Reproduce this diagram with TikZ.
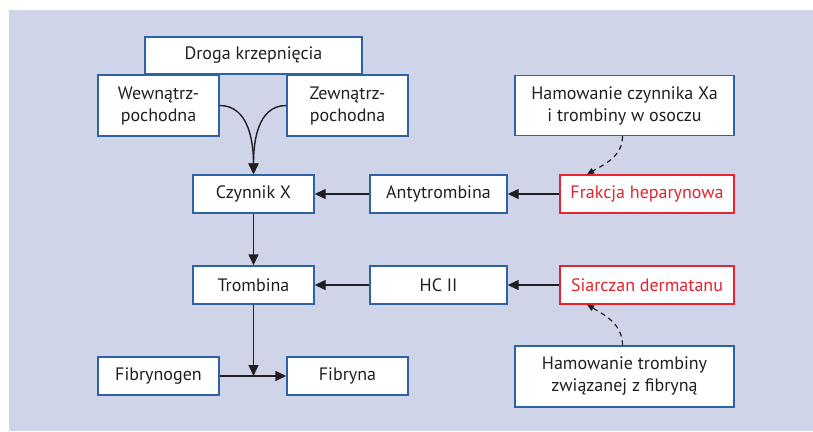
\documentclass[tikz,border=0pt]{standalone}
\usepackage{fontspec}
\setmainfont{PT Sans}
\usepackage{xcolor}
\usetikzlibrary{arrows.meta}

\definecolor{tlo}{HTML}{CFD4E8}
\definecolor{ramka}{HTML}{2B63A6}
\definecolor{czerwony}{HTML}{E4242F}
\definecolor{tekst}{HTML}{231F20}

\tikzset{
  box/.style={draw=ramka, fill=white, line width=1.4pt, text=tekst,
    inner sep=0pt, align=center, font=\fontsize{18}{22}\selectfont},
  redbox/.style={box, draw=czerwony, text=czerwony},
  arr/.style={draw=tekst, line width=1.4pt, -{Triangle[length=11pt,width=10pt]}},
  dasharr/.style={draw=tekst, line width=1.2pt, dash pattern=on 5pt off 4pt,
    -{Triangle[length=7pt,width=6pt]}}
}

\begin{document}
\begin{tikzpicture}[x=1pt, y=-1pt]
        % Panel
        \useasboundingbox (0,0) rectangle (813,431);
        \fill[tlo] (9,10) rectangle (813,431);

        % Boxes
        \node[box, minimum width=217pt, minimum height=37pt] (droga) at (253.5,55.5) {Droga krzepnięcia};
        \node[box, minimum width=121pt, minimum height=61pt] (wewn) at (158.5,105.5) {Wewnątrz-\\pochodna};
        \node[box, minimum width=121pt, minimum height=61pt] (zewn) at (347.5,105.5) {Zewnątrz-\\pochodna};
        \node[box, minimum width=219pt, minimum height=60pt] (hamXa) at (624.5,105.5) {Hamowanie czynnika Xa\\i trombiny w osoczu};

        \node[box, minimum width=121pt, minimum height=38pt] (czynnikX) at (253.5,194) {Czynnik X};
        \node[box, minimum width=137pt, minimum height=38pt] (antytromb) at (438.5,194) {Antytrombina};
        \node[redbox, minimum width=174pt, minimum height=38pt] (frakcja) at (647,194) {Frakcja heparynowa};

        \node[box, minimum width=121pt, minimum height=38pt] (trombina) at (253.5,285) {Trombina};
        \node[box, minimum width=137pt, minimum height=38pt] (hcii) at (438.5,285) {HC II};
        \node[redbox, minimum width=174pt, minimum height=38pt] (siarczan) at (647,285) {Siarczan dermatanu};

        \node[box, minimum width=121pt, minimum height=38pt] (fibrynogen) at (158.5,376) {Fibrynogen};
        \node[box, minimum width=121pt, minimum height=38pt] (fibryna) at (347.5,376) {Fibryna};
        \node[box, minimum width=219pt, minimum height=61pt] (hamTromb) at (624.5,376.5) {Hamowanie trombiny\\związanej z fibryną};

        % Arrows
        \draw[arr] (wewn.east) to[out=0, in=90] (czynnikX.north);
        \draw[arr] (zewn.west) to[out=180, in=90] (czynnikX.north);
        \draw[arr] (czynnikX) -- (trombina);
        \draw[arr] (antytromb) -- (czynnikX);
        \draw[arr] (frakcja) -- (antytromb);
        \draw[arr] (hcii) -- (trombina);
        \draw[arr] (siarczan) -- (hcii);
        \draw[arr] (fibrynogen) -- (fibryna);
        \coordinate (styk) at (trombina.south |- fibryna.west);
        \draw[arr] (trombina) -- (styk);

        \draw[dasharr] ([xshift=-2pt]hamXa.south) to[out=-90, in=30] ([xshift=-60pt]frakcja.north);
        \draw[dasharr] ([xshift=-2pt]hamTromb.north) to[out=90, in=-30] ([xshift=-60pt]siarczan.south);
    \end{tikzpicture}
\end{document}
